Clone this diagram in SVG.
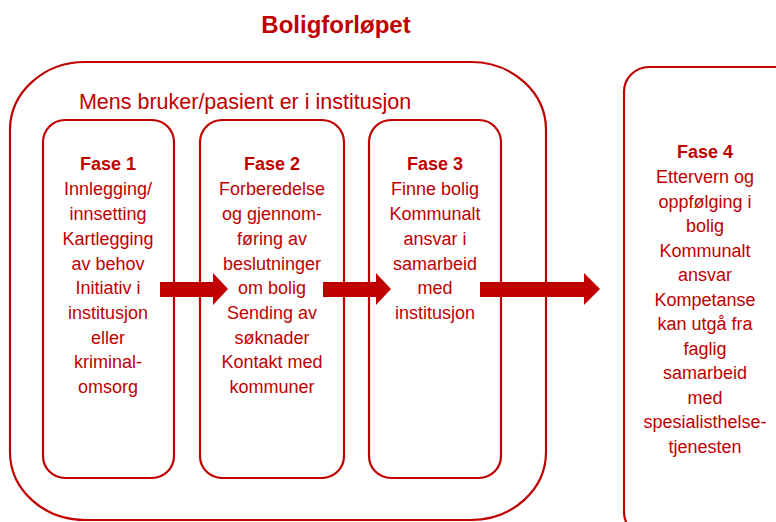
<svg xmlns="http://www.w3.org/2000/svg" width="776" height="522" viewBox="0 0 776 522">
<style>
.box{fill:none;stroke:#C00000;stroke-width:2.2}
.t{font-family:"Liberation Sans",Arial,sans-serif;font-size:18px;fill:#C00000;text-anchor:middle}
.b{font-weight:bold}
.arrow{fill:#C00000}
</style>
<rect width="776" height="522" fill="#ffffff"/>
<text x="336" y="33" class="t b" style="font-size:24px">Boligforløpet</text>
<g id="outer">
<rect class="box" x="10" y="62" width="536" height="458" rx="75" ry="68"/>
<text x="245" y="109" class="t" style="font-size:21.5px">Mens bruker/pasient er i institusjon</text>
</g>
<g id="fase1">
<rect class="box" x="43" y="120" width="131" height="358" rx="22"/>
<text class="t"><tspan x="108" y="170" class="b">Fase 1</tspan><tspan x="108" y="195">Innlegging/</tspan><tspan x="108" y="220">innsetting</tspan><tspan x="108" y="245">Kartlegging</tspan><tspan x="108" y="269.5">av behov</tspan><tspan x="108" y="294">Initiativ i</tspan><tspan x="108" y="319">institusjon</tspan><tspan x="108" y="344">eller</tspan><tspan x="108" y="368">kriminal-</tspan><tspan x="108" y="393">omsorg</tspan></text>
</g>
<g id="fase2">
<rect class="box" x="200" y="120" width="144" height="358" rx="22"/>
<text class="t"><tspan x="272" y="170" class="b">Fase 2</tspan><tspan x="272" y="195">Forberedelse</tspan><tspan x="272" y="220">og gjennom-</tspan><tspan x="272" y="245">føring av</tspan><tspan x="272" y="269.5">beslutninger</tspan><tspan x="272" y="294">om bolig</tspan><tspan x="272" y="319">Sending av</tspan><tspan x="272" y="344">søknader</tspan><tspan x="272" y="368">Kontakt med</tspan><tspan x="272" y="393">kommuner</tspan></text>
</g>
<g id="fase3">
<rect class="box" x="369" y="120" width="132" height="358" rx="22"/>
<text class="t"><tspan x="435" y="170" class="b">Fase 3</tspan><tspan x="435" y="195">Finne bolig</tspan><tspan x="435" y="220">Kommunalt</tspan><tspan x="435" y="245">ansvar i</tspan><tspan x="435" y="269.5">samarbeid</tspan><tspan x="435" y="294">med</tspan><tspan x="435" y="319">institusjon</tspan></text>
</g>
<g id="fase4">
<rect class="box" x="624" y="67" width="180" height="470" rx="25"/>
<text class="t"><tspan x="705" y="158" class="b">Fase 4</tspan><tspan x="705" y="183">Ettervern og</tspan><tspan x="705" y="207.5">oppfølging i</tspan><tspan x="705" y="232">bolig</tspan><tspan x="705" y="256.5">Kommunalt</tspan><tspan x="705" y="281">ansvar</tspan><tspan x="705" y="305.5">Kompetanse</tspan><tspan x="705" y="330">kan utgå fra</tspan><tspan x="705" y="354.5">faglig</tspan><tspan x="705" y="379">samarbeid</tspan><tspan x="705" y="403.5">med</tspan><tspan x="705" y="428">spesialisthelse-</tspan><tspan x="705" y="452.5">tjenesten</tspan></text>
</g>
<g id="connectors">
<polygon class="arrow" points="160,282 213,282 213,273 228,289 213,305 213,297 160,297"/>
<polygon class="arrow" points="323,282 376,282 376,273 391,289 376,305 376,297 323,297"/>
<polygon class="arrow" points="480,282 584,282 584,273 600,289 584,305 584,297 480,297"/>
</g>
</svg>
